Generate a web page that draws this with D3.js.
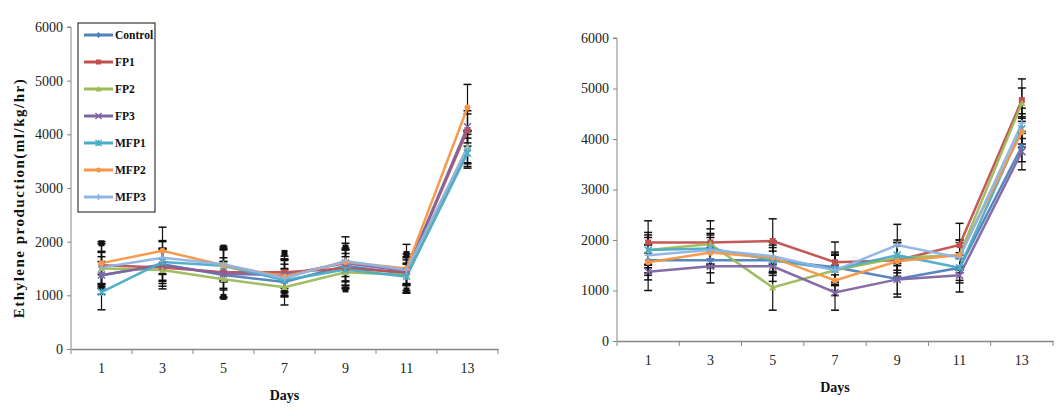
<!DOCTYPE html>
<html><head><meta charset="utf-8">
<script src="https://cdn.jsdelivr.net/npm/d3@7"></script>
<style>body{margin:0;background:#fff}svg{display:block}</style>
</head><body>
<svg id="c" width="1062" height="416"></svg>
<script>
const days = ["1","3","5","7","9","11","13"];
const seriesNames = ["Control","FP1","FP2","FP3","MFP1","MFP2","MFP3"];
const yTicks = [0,1000,2000,3000,4000,5000,6000];

// Left chart values
const leftControl = [1370,1580,1380,1250,1550,1400,3700];
const leftFP1     = [1560,1520,1430,1430,1500,1430,4080];
const leftFP2     = [1500,1470,1300,1150,1430,1380,3770];
const leftFP3     = [1380,1560,1400,1380,1600,1450,4140];
const leftMFP1    = [1060,1620,1550,1280,1480,1350,3650];
const leftMFP2    = [1600,1830,1560,1350,1620,1500,4500];
const leftMFP3    = [1520,1700,1580,1320,1640,1470,3750];
// Left chart errors
const leftErrControl = [350,300,250,250,300,200,300];
const leftErrFP1     = [400,350,480,300,380,340,300];
const leftErrFP2     = [300,350,330,330,290,200,300];
const leftErrFP3     = [250,300,300,300,250,250,300];
const leftErrMFP1    = [330,400,300,300,300,310,280];
const leftErrMFP2    = [400,440,300,300,350,450,430];
const leftErrMFP3    = [300,300,300,350,450,250,300];
// Left chart: FP1 error bars ending in black squares (null = plain caps)
const leftSquareErrFP1 = [410,null,460,360,390,340,null];

// Right chart values
const rightControl = [1600,1600,1600,1460,1230,1450,3850];
const rightFP1     = [1950,1950,1980,1560,1600,1900,4770];
const rightFP2     = [1800,1920,1060,1400,1650,1700,4710];
const rightFP3     = [1370,1480,1480,960,1220,1300,3750];
const rightMFP1    = [1800,1830,1600,1420,1700,1450,4200];
const rightMFP2    = [1560,1750,1650,1200,1580,1700,4140];
const rightMFP3    = [1700,1800,1680,1400,1900,1650,4310];
// Right chart errors
const rightErrControl = [300,250,250,300,300,250,300];
const rightErrFP1     = [430,430,440,400,350,430,420];
const rightErrFP2     = [300,300,450,300,300,300,300];
const rightErrFP3     = [370,330,300,350,350,330,360];
const rightErrMFP1    = [350,300,300,300,300,300,300];
const rightErrMFP2    = [350,300,300,300,300,300,300];
const rightErrMFP3    = [350,300,300,300,410,300,300];

const colors = ["#4F81BD","#C0504D","#9BBB59","#8064A2","#4BACC6","#F79646","#8EB4E3"];
const markers = ["diamond","square","triangle","x","star","circle","plus"];

const leftVals = [leftControl,leftFP1,leftFP2,leftFP3,leftMFP1,leftMFP2,leftMFP3];
const leftErrs = [leftErrControl,leftErrFP1,leftErrFP2,leftErrFP3,leftErrMFP1,leftErrMFP2,leftErrMFP3];
const rightVals = [rightControl,rightFP1,rightFP2,rightFP3,rightMFP1,rightMFP2,rightMFP3];
const rightErrs = [rightErrControl,rightErrFP1,rightErrFP2,rightErrFP3,rightErrMFP1,rightErrMFP2,rightErrMFP3];

const svg = d3.select("#c");
const serif = "'Liberation Serif','Times New Roman',serif";

function marker(g, type, x, y, color, s) {
  s = s || 3.5;
  if (type === "diamond") g.append("path").attr("d", `M${x},${y-s}L${x+s},${y}L${x},${y+s}L${x-s},${y}Z`).attr("fill", color);
  else if (type === "square") g.append("rect").attr("x", x-s+0.5).attr("y", y-s+0.5).attr("width", 2*s-1).attr("height", 2*s-1).attr("fill", color);
  else if (type === "triangle") g.append("path").attr("d", `M${x},${y-s}L${x+s},${y+s*0.8}L${x-s},${y+s*0.8}Z`).attr("fill", color);
  else if (type === "x") g.append("path").attr("d", `M${x-s},${y-s}L${x+s},${y+s}M${x+s},${y-s}L${x-s},${y+s}`).attr("stroke", color).attr("stroke-width", 1.5);
  else if (type === "star") g.append("path").attr("d", `M${x-s},${y-s}L${x+s},${y+s}M${x+s},${y-s}L${x-s},${y+s}M${x},${y-s}L${x},${y+s}`).attr("stroke", color).attr("stroke-width", 1.5);
  else if (type === "circle") g.append("circle").attr("cx", x).attr("cy", y).attr("r", s-0.5).attr("fill", color);
  else if (type === "plus") g.append("path").attr("d", `M${x-s},${y}L${x+s},${y}M${x},${y-s}L${x},${y+s}`).attr("stroke", color).attr("stroke-width", 1.5);
}

function drawChart(cfg) {
  const g = svg.append("g");
  const x = d3.scaleBand().domain(days).range([cfg.x0, cfg.x1]);
  const y = d3.scaleLinear().domain([0, 6000]).range([cfg.yb, cfg.yt]);

  const ya = g.append("g").attr("transform", `translate(${cfg.x0},0)`)
    .call(d3.axisLeft(y).tickValues(yTicks).tickSize(4).tickPadding(4).tickFormat(d3.format("d")));
  ya.select(".domain").attr("stroke", "#868686").attr("d", `M-4,${cfg.yt}H0V${cfg.yb}`);
  ya.selectAll(".tick line").attr("stroke", "#868686");
  ya.selectAll("text").attr("font-family", serif).attr("font-size", 14).attr("fill", "#222");

  const xa = g.append("g").attr("transform", `translate(0,${cfg.yb})`)
    .call(d3.axisBottom(x).tickSize(0).tickPadding(cfg.catPad));
  xa.select(".domain").attr("stroke", "#868686").attr("stroke-width", 1.5);
  xa.selectAll("text").attr("font-family", serif).attr("font-size", 14).attr("fill", "#222");
  const bounds = days.map(d => x(d)).concat([cfg.x1]);
  g.selectAll(null).data(bounds).enter().append("line")
    .attr("x1", d => d).attr("x2", d => d).attr("y1", cfg.yb).attr("y2", cfg.yb + 5)
    .attr("stroke", "#868686");

  g.append("text").attr("x", (cfg.x0 + cfg.x1) / 2).attr("y", cfg.daysY)
    .attr("text-anchor", "middle").attr("font-family", serif).attr("font-weight", "bold")
    .attr("font-size", 14).attr("fill", "#111").text("Days");

  const cx = d => x(d) + x.bandwidth() / 2;

  cfg.vals.forEach((vals, i) => {
    vals.forEach((v, j) => {
      const e = cfg.errs[i][j];
      const px = cx(days[j]);
      g.append("line").attr("x1", px).attr("x2", px).attr("y1", y(v + e)).attr("y2", y(v - e))
        .attr("stroke", "#111").attr("stroke-width", 1.2);
      [v + e, v - e].forEach(t => g.append("line").attr("x1", px - 4).attr("x2", px + 4)
        .attr("y1", y(t)).attr("y2", y(t)).attr("stroke", "#111").attr("stroke-width", 1.5));
    });
  });
  if (cfg.squares) {
    cfg.squares.err.forEach((e, j) => {
      if (e == null) return;
      const v = cfg.squares.vals[j], px = cx(days[j]);
      g.append("line").attr("x1", px).attr("x2", px).attr("y1", y(v + e)).attr("y2", y(v - e))
        .attr("stroke", "#111").attr("stroke-width", 1.2);
      [v + e, v - e].forEach(t => g.append("rect").attr("x", px - 3).attr("y", y(t) - 3)
        .attr("width", 6).attr("height", 6).attr("fill", "#111"));
    });
  }

  const line = d3.line().x((d, j) => cx(days[j])).y(d => y(d));
  cfg.vals.forEach((vals, i) => {
    g.append("path").datum(vals).attr("d", line).attr("fill", "none")
      .attr("stroke", colors[i]).attr("stroke-width", 2.5).attr("stroke-opacity", 0.95);
  });
  cfg.vals.forEach((vals, i) => {
    vals.forEach((v, j) => marker(g, markers[i], cx(days[j]), y(v), colors[i]));
  });
}

drawChart({x0: 71, x1: 498, yt: 27, yb: 349, vals: leftVals, errs: leftErrs, catPad: 14, daysY: 400,
  squares: {vals: leftFP1, err: leftSquareErrFP1}});
drawChart({x0: 617, x1: 1053, yt: 38, yb: 341, vals: rightVals, errs: rightErrs, catPad: 14, daysY: 392});

svg.append("text").attr("transform", "translate(24,198) rotate(-90)")
  .attr("text-anchor", "middle").attr("font-family", serif).attr("font-weight", "bold")
  .attr("font-size", 15).attr("letter-spacing", 1.5).attr("fill", "#111").text("Ethylene  production(ml/kg/hr)");

const lg = svg.append("g");
lg.append("rect").attr("x", 78).attr("y", 23).attr("width", 77).attr("height", 189)
  .attr("fill", "#fff").attr("stroke", "#111").attr("stroke-width", 1);
seriesNames.forEach((n, i) => {
  const ly = 35 + i * 27;
  lg.append("line").attr("x1", 84).attr("x2", 113).attr("y1", ly).attr("y2", ly)
    .attr("stroke", colors[i]).attr("stroke-width", 3);
  marker(lg, markers[i], 98.5, ly, colors[i], 3);
  lg.append("text").attr("x", 115).attr("y", ly + 4).attr("font-family", serif)
    .attr("font-weight", "bold").attr("font-size", 11.5)
    .attr("fill", "#111").text(n);
});
</script>
</body></html>
